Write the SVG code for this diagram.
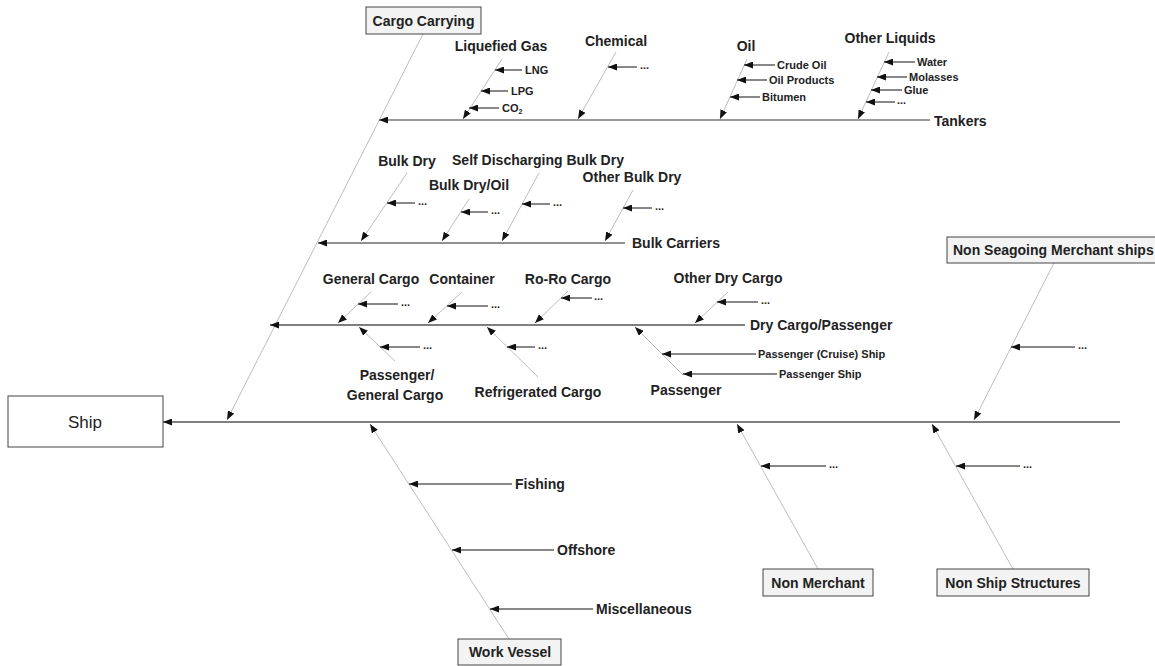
<svg xmlns="http://www.w3.org/2000/svg" width="1155" height="666" viewBox="0 0 1155 666">
<defs>
<marker id="ah" markerUnits="userSpaceOnUse" markerWidth="9" markerHeight="7" refX="9" refY="3.5" orient="auto">
<path d="M0,0 L9,3.5 L0,7 z" fill="#111"/>
</marker>
<style>
text{font-family:"Liberation Sans",Arial,sans-serif;fill:#222;font-weight:bold}
.t{font-size:14px;text-anchor:middle;dominant-baseline:central}
.ts{font-size:14px;dominant-baseline:central}
.s{font-size:11px;dominant-baseline:central}
.d{font-size:11px}
.bone{stroke:#bdbdbd;stroke-width:1;fill:none;marker-end:url(#ah)}
.sub{stroke:#111;stroke-width:1;fill:none;marker-end:url(#ah)}
.spine{stroke:#555;stroke-width:1.5;fill:none;marker-end:url(#ah)}
.box{fill:#f3f3f3;stroke:#444;stroke-width:1}
</style>
</defs>
<rect width="1155" height="666" fill="#fff"/>
<g id="connectors">
<line class="spine" x1="1120" y1="422" x2="163" y2="422"/>
<line class="bone" x1="423" y1="34" x2="227" y2="420"/>
<line class="spine" x1="930" y1="120" x2="379" y2="120" style="stroke:#777"/>
<line class="bone" x1="502" y1="59" x2="463" y2="119"/>
<line class="sub" x1="522" y1="70" x2="495" y2="70"/>
<line class="sub" x1="508" y1="91" x2="481" y2="91"/>
<line class="sub" x1="499" y1="108" x2="469" y2="108"/>
<line class="bone" x1="616" y1="52" x2="578" y2="119"/>
<line class="sub" x1="637" y1="67" x2="608" y2="67"/>
<line class="bone" x1="747" y1="59" x2="720" y2="119"/>
<line class="sub" x1="775" y1="65" x2="744" y2="65"/>
<line class="sub" x1="767" y1="80" x2="737" y2="80"/>
<line class="sub" x1="760" y1="97" x2="730" y2="97"/>
<line class="bone" x1="889" y1="52" x2="858" y2="119"/>
<line class="sub" x1="915" y1="62" x2="884" y2="62"/>
<line class="sub" x1="907" y1="77" x2="877" y2="77"/>
<line class="sub" x1="902" y1="90" x2="871" y2="90"/>
<line class="sub" x1="895" y1="102" x2="866" y2="102"/>
<line class="spine" x1="625" y1="243" x2="318" y2="243" style="stroke:#222;stroke-width:1"/>
<line class="bone" x1="407" y1="173" x2="361" y2="241"/>
<line class="sub" x1="415" y1="203" x2="387" y2="203"/>
<line class="bone" x1="469" y1="199" x2="442" y2="241"/>
<line class="sub" x1="488" y1="212" x2="461" y2="212"/>
<line class="bone" x1="539" y1="173" x2="502" y2="241"/>
<line class="sub" x1="550" y1="204" x2="522" y2="204"/>
<line class="bone" x1="633" y1="190" x2="605" y2="241"/>
<line class="sub" x1="652" y1="208" x2="623" y2="208"/>
<line class="spine" x1="745" y1="325" x2="270" y2="325"/>
<line class="bone" x1="371" y1="292" x2="338" y2="323"/>
<line class="sub" x1="398" y1="304" x2="358" y2="304"/>
<line class="bone" x1="462" y1="292" x2="428" y2="323"/>
<line class="sub" x1="488" y1="306" x2="447" y2="306"/>
<line class="bone" x1="568" y1="291" x2="535" y2="323"/>
<line class="sub" x1="592" y1="298" x2="561" y2="298"/>
<line class="bone" x1="728" y1="292" x2="695" y2="323"/>
<line class="sub" x1="758" y1="302" x2="717" y2="302"/>
<line class="bone" x1="395" y1="361" x2="359" y2="327"/>
<line class="sub" x1="420" y1="347" x2="380" y2="347"/>
<line class="bone" x1="538" y1="377" x2="487" y2="327"/>
<line class="sub" x1="535" y1="347" x2="507" y2="347"/>
<line class="bone" x1="683" y1="375" x2="635" y2="327"/>
<line class="sub" x1="756" y1="354" x2="662" y2="354"/>
<line class="sub" x1="777" y1="374" x2="683" y2="374"/>
<line class="bone" x1="1054" y1="263" x2="974" y2="420"/>
<line class="sub" x1="1075" y1="347" x2="1011" y2="347"/>
<line class="bone" x1="818" y1="569" x2="737" y2="424"/>
<line class="sub" x1="826" y1="466" x2="761" y2="466"/>
<line class="bone" x1="1013" y1="569" x2="932" y2="424"/>
<line class="sub" x1="1020" y1="466" x2="956" y2="466"/>
<line class="bone" x1="509" y1="639" x2="370" y2="424"/>
<line class="sub" x1="512" y1="484" x2="409" y2="484"/>
<line class="sub" x1="554" y1="550" x2="452" y2="550"/>
<line class="sub" x1="593" y1="609" x2="490" y2="609"/>
</g>
<g id="ship">
<rect x="8" y="396" width="155" height="51" fill="#fff" stroke="#444" stroke-width="1"/>
<text x="85" y="422" style="font-size:17px;font-weight:normal;text-anchor:middle;dominant-baseline:central">Ship</text>
</g>
<g id="cargo-carrying">
<rect class="box" x="366" y="7" width="115" height="27"/>
<text class="t" x="423.5" y="21">Cargo Carrying</text>
</g>
<g id="tankers">
<text class="ts" x="934" y="121">Tankers</text>
</g>
<g id="liquefied-gas">
<text class="t" x="501" y="46">Liquefied Gas</text>
<text class="s" x="525" y="70">LNG</text>
<text class="s" x="511" y="91">LPG</text>
<text class="s" x="502" y="108">CO<tspan font-size="7" dy="3">2</tspan></text>
</g>
<g id="chemical">
<text class="t" x="616" y="41">Chemical</text>
<text class="d" x="640" y="69">...</text>
</g>
<g id="oil">
<text class="t" x="746" y="46">Oil</text>
<text class="s" x="777" y="65">Crude Oil</text>
<text class="s" x="769" y="80">Oil Products</text>
<text class="s" x="762" y="97">Bitumen</text>
</g>
<g id="other-liquids">
<text class="t" x="890" y="38">Other Liquids</text>
<text class="s" x="917" y="62">Water</text>
<text class="s" x="909" y="77">Molasses</text>
<text class="s" x="904" y="90">Glue</text>
<text class="d" x="897" y="104">...</text>
</g>
<g id="bulk-carriers">
<text class="ts" x="632" y="243">Bulk Carriers</text>
</g>
<g id="bulk-dry">
<text class="t" x="407" y="161">Bulk Dry</text>
<text class="d" x="418" y="205">...</text>
</g>
<g id="bulk-dry-oil">
<text class="t" x="469" y="185">Bulk Dry/Oil</text>
<text class="d" x="491" y="214">...</text>
</g>
<g id="self-discharging">
<text class="t" x="538" y="160">Self Discharging Bulk Dry</text>
<text class="d" x="553" y="206">...</text>
</g>
<g id="other-bulk-dry">
<text class="t" x="632" y="177">Other Bulk Dry</text>
<text class="d" x="655" y="210">...</text>
</g>
<g id="dry-cargo-passenger">
<text class="ts" x="750" y="325">Dry Cargo/Passenger</text>
</g>
<g id="general-cargo">
<text class="t" x="371" y="279">General Cargo</text>
<text class="d" x="401" y="306">...</text>
</g>
<g id="container">
<text class="t" x="462" y="279">Container</text>
<text class="d" x="491" y="308">...</text>
</g>
<g id="ro-ro-cargo">
<text class="t" x="568" y="279">Ro-Ro Cargo</text>
<text class="d" x="594" y="300">...</text>
</g>
<g id="other-dry-cargo">
<text class="t" x="728" y="278">Other Dry Cargo</text>
<text class="d" x="761" y="304">...</text>
</g>
<g id="passenger-general-cargo">
<text class="t" x="397" y="375">Passenger/</text>
<text class="t" x="395" y="395">General Cargo</text>
<text class="d" x="423" y="349">...</text>
</g>
<g id="refrigerated-cargo">
<text class="t" x="538" y="392">Refrigerated Cargo</text>
<text class="d" x="538" y="349">...</text>
</g>
<g id="passenger">
<text class="t" x="686" y="390">Passenger</text>
<text class="s" x="758" y="354">Passenger (Cruise) Ship</text>
<text class="s" x="779" y="374">Passenger Ship</text>
</g>
<g id="non-seagoing">
<rect class="box" x="947" y="237" width="215" height="26"/>
<text class="ts" x="953" y="250">Non Seagoing Merchant ships</text>
<text class="d" x="1078" y="349">...</text>
</g>
<g id="non-merchant">
<rect class="box" x="763" y="569" width="110" height="27"/>
<text class="t" x="818" y="583">Non Merchant</text>
<text class="d" x="829" y="468">...</text>
</g>
<g id="non-ship-structures">
<rect class="box" x="937" y="569" width="152" height="27"/>
<text class="t" x="1013" y="583">Non Ship Structures</text>
<text class="d" x="1023" y="468">...</text>
</g>
<g id="work-vessel">
<rect class="box" x="458" y="639" width="103" height="26"/>
<text class="t" x="510" y="652">Work Vessel</text>
<text class="ts" x="515" y="484">Fishing</text>
<text class="ts" x="557" y="550">Offshore</text>
<text class="ts" x="596" y="609">Miscellaneous</text>
</g>
</svg>
